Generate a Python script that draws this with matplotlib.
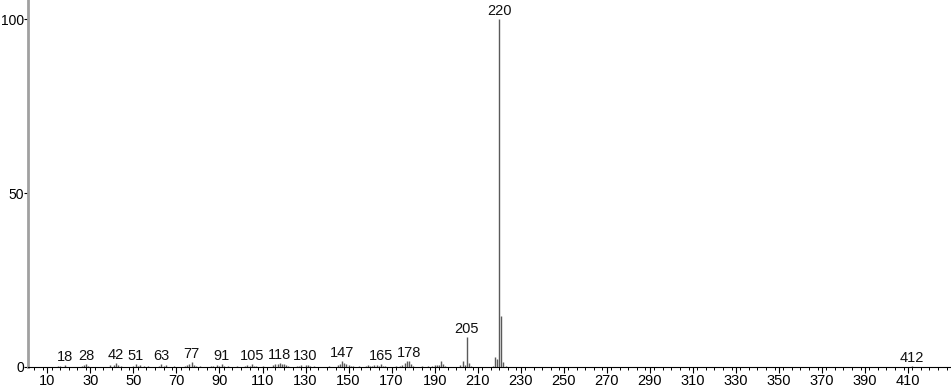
import matplotlib.pyplot as plt
from matplotlib.ticker import MultipleLocator

# m/z and relative intensity (%)
mz = [15, 16, 18, 26, 27, 28, 29, 39, 41, 42, 43, 44, 50, 51, 52, 53, 55, 57,
      62, 63, 64, 65, 69, 74, 75, 76, 77, 78, 79, 81, 86, 87, 89, 90, 91, 92,
      94, 98, 102, 103, 104, 105, 106, 107, 110, 115, 116, 117, 118, 119, 120,
      121, 122, 126, 127, 128, 130, 131, 132, 134, 141, 145, 146, 147, 148,
      149, 150, 151, 152, 155, 158, 159, 160, 161, 162, 163, 164, 165, 166,
      167, 172, 174, 175, 176, 177, 178, 179, 180, 184, 187, 189, 190, 191,
      192, 193, 194, 195, 202, 203, 204, 205, 206, 207, 217, 218, 219, 220,
      221, 222, 223, 412]
intensity = [0.3, 0.2, 0.6, 0.3, 0.5, 0.8, 0.4, 0.5, 0.7, 1.2, 0.6, 0.3, 0.3,
             0.9, 0.4, 0.5, 0.4, 0.3, 0.3, 0.8, 0.4, 0.6, 0.3, 0.3, 0.5, 0.8,
             1.3, 0.6, 0.4, 0.3, 0.3, 0.4, 0.5, 0.4, 0.8, 0.4, 0.3, 0.3, 0.4,
             0.5, 0.4, 0.8, 0.4, 0.3, 0.3, 0.7, 0.8, 1.0, 1.2, 1.0, 0.8, 0.6,
             0.4, 0.3, 0.4, 0.5, 0.7, 0.5, 0.4, 0.3, 0.3, 0.5, 0.9, 1.8, 1.2,
             0.9, 0.5, 0.4, 0.3, 0.3, 0.4, 0.5, 0.4, 0.4, 0.5, 0.6, 0.4, 0.9,
             0.4, 0.3, 0.3, 0.4, 0.6, 1.2, 1.6, 1.8, 0.8, 0.4, 0.3, 0.3, 0.4,
             0.5, 0.5, 0.7, 1.6, 0.8, 0.3, 0.5, 1.8, 0.6, 8.7, 1.2, 0.4, 0.4,
             3.0, 2.2, 100.0, 14.8, 1.5, 0.2, 0.3]

# peaks that carry an m/z label
labelled = [18, 28, 42, 51, 63, 77, 91, 105, 118, 130, 147, 165, 178, 205, 220, 412]

x_major = list(range(10, 430, 20))
y_ticks = [0, 50, 100]

plt.rcParams['font.family'] = ['Liberation Sans', 'DejaVu Sans']
fs = 10.5

fig = plt.figure(figsize=(9.51, 3.89), dpi=100)
ax = fig.add_axes([28 / 951, 22 / 389, 1 - 28 / 951, 1 - 22 / 389])

ax.vlines(mz, 0, intensity, colors='#5a5a5a', linewidth=1.0)

lookup = dict(zip(mz, intensity))
for m in labelled:
    ax.annotate(str(m), (m, lookup[m]), xytext=(0, 3), textcoords='offset points',
                ha='center', va='baseline', fontsize=fs, color='#111111')

ax.set_xlim(1, 430)
ax.set_ylim(0, 105.6)
ax.set_xticks(x_major)
ax.xaxis.set_minor_locator(MultipleLocator(4))
ax.set_yticks(y_ticks)

for s in ('top', 'right'):
    ax.spines[s].set_visible(False)
ax.spines['left'].set_color('#a0a0a0')
ax.spines['left'].set_linewidth(2.0)
ax.spines['bottom'].set_color('black')
ax.spines['bottom'].set_linewidth(0.8)

ax.tick_params(axis='x', which='major', length=4, width=0.8, pad=1, labelsize=fs)
ax.tick_params(axis='x', which='minor', length=2, width=0.7)
ax.tick_params(axis='y', length=3, width=0.8, pad=0, labelsize=10)

fig.savefig('out.png', dpi=100)
